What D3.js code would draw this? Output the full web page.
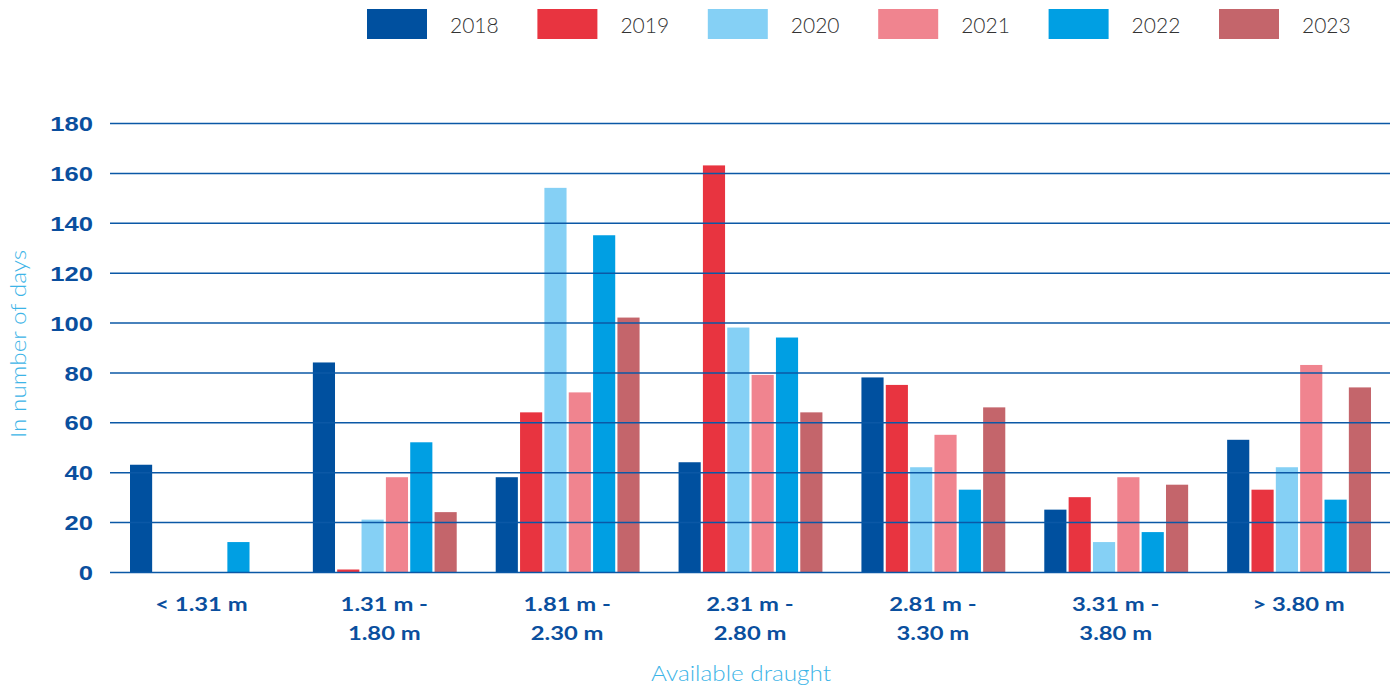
<!DOCTYPE html>
<html><head><meta charset="utf-8">
<script src="https://cdn.jsdelivr.net/npm/d3@7"></script>
<style>body{margin:0;background:#fff}svg{display:block;font-family:Lato,"Open Sans",sans-serif}</style>
</head><body><svg id="c" width="1399" height="689"></svg>
<script>
const categories = [["< 1.31 m"],["1.31 m -","1.80 m"],["1.81 m -","2.30 m"],["2.31 m -","2.80 m"],["2.81 m -","3.30 m"],["3.31 m -","3.80 m"],["> 3.80 m"]];
const years = ["2018","2019","2020","2021","2022","2023"];
const colors = ["#00509f","#e83440","#85d0f5","#f0848f","#009fe3","#c4656b"];
const v2018 = [43, 84, 38, 44, 78, 25, 53];
const v2019 = [0, 1, 64, 163, 75, 30, 33];
const v2020 = [0, 21, 154, 98, 42, 12, 42];
const v2021 = [0, 38, 72, 79, 55, 38, 83];
const v2022 = [12, 52, 135, 94, 33, 16, 29];
const v2023 = [0, 24, 102, 64, 66, 35, 74];
const series = [v2018, v2019, v2020, v2021, v2022, v2023];
const yTicks = [0,20,40,60,80,100,120,140,160,180];

const svg = d3.select("#c");
const m = {left:110, right:1390, top:123, bottom:572};
const x0 = d3.scaleBand().domain(d3.range(categories.length)).range([m.left, m.right]).paddingInner(0).paddingOuter(0);
const x1 = d3.scaleBand().domain(years).range([20, x0.bandwidth()-19]).paddingInner(0.09);
const y = d3.scaleLinear().domain([0,180]).range([m.bottom, m.top]);

// bars
const g = svg.append("g");
categories.forEach((c,i)=>{
  years.forEach((yr,j)=>{
    const v = series[j][i];
    if (v <= 0) return;
    g.append("rect")
      .attr("x", x0(i)+x1(yr))
      .attr("width", x1.bandwidth())
      .attr("y", y(v))
      .attr("height", y(0)-y(v))
      .attr("fill", colors[j]);
  });
});

// gridlines on top
const yAxis = d3.axisLeft(y).tickValues(yTicks).tickSize(-(m.right-m.left)).tickPadding(17);
const ya = svg.append("g").attr("transform",`translate(${m.left},0)`).call(yAxis);
ya.select(".domain").remove();
ya.selectAll(".tick line").attr("stroke","#0b58a6").attr("stroke-width",1.5);
ya.selectAll(".tick text").attr("fill","#0a4f9e").attr("font-size",21).attr("font-weight",700)
  .attr("x",0).attr("dy","0.36em").attr("transform","translate(-17,0) scale(1.22,1)");

// x labels
const xl = svg.append("g");
categories.forEach((c,i)=>{
  const cx = x0(i)+x0.bandwidth()/2;
  const t = xl.append("text").attr("transform",`translate(${cx},611) scale(1.22,1)`).attr("text-anchor","middle")
    .attr("fill","#0a4f9e").attr("font-size",19.5).attr("font-weight",700);
  c.forEach((line,k)=>{
    t.append("tspan").attr("x",0).attr("dy",k===0?0:29).text(line);
  });
});

// axis titles
svg.append("text").attr("transform","translate(741,681) scale(1.08,1)").attr("text-anchor","middle")
  .attr("fill","#3cb4e7").attr("font-size",22.5).attr("font-weight",300).text("Available draught");
svg.append("text").attr("transform","translate(26,344) rotate(-90) scale(1.08,1)").attr("text-anchor","middle")
  .attr("fill","#3cb4e7").attr("font-size",22.5).attr("font-weight",300).text("In number of days");

// legend
const lg = svg.append("g");
years.forEach((yr,j)=>{
  const lx = 367 + j*170.4;
  lg.append("rect").attr("x",lx).attr("y",9).attr("width",60).attr("height",30).attr("fill",colors[j]);
  lg.append("text").attr("x",lx+83).attr("y",33).attr("fill","#333").attr("font-size",21).attr("font-weight",300).text(yr);
});
</script></body></html>
